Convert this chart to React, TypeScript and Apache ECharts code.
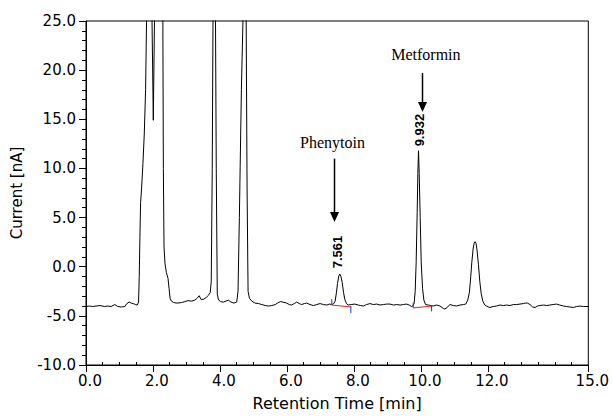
import React, { useEffect, useRef } from "react";
import * as echarts from "echarts";

// Chromatogram trace: retention time (min) and current (nA)
const retentionTime: number[] = [
  0.0, 0.1, 0.2, 0.3, 0.42, 0.55, 0.65, 0.75, 0.86, 0.95, 1.05, 1.16, 1.22, 1.29, 1.35, 1.41, 1.48, 1.53,
  1.57, 1.59, 1.61, 1.63, 1.66, 1.7, 1.74, 1.78, 1.81, 1.85, 1.9, 1.93, 1.96, 2.01, 2.055, 2.09, 2.15, 2.25,
  2.29, 2.31, 2.33, 2.36, 2.4, 2.45, 2.48, 2.51, 2.55, 2.62, 2.72, 2.85, 2.95, 3.05, 3.15, 3.25, 3.32, 3.38,
  3.44, 3.52, 3.6, 3.66, 3.71, 3.74, 3.77, 3.8, 3.83, 3.86, 3.89, 3.92, 3.96, 4.02, 4.1, 4.18, 4.25, 4.33,
  4.42, 4.5, 4.54, 4.58, 4.64, 4.7, 4.74, 4.78, 4.81, 4.84, 4.88, 4.95, 5.05, 5.15, 5.25, 5.35, 5.45, 5.55,
  5.65, 5.72, 5.8, 5.88, 5.99, 6.07, 6.14, 6.22, 6.29, 6.37, 6.44, 6.52, 6.59, 6.69, 6.79, 6.89, 6.99, 7.09,
  7.19, 7.27, 7.34, 7.4, 7.44, 7.48, 7.51, 7.55, 7.58, 7.61, 7.65, 7.69, 7.73, 7.78, 7.83, 7.92, 8.03, 8.13,
  8.2, 8.28, 8.38, 8.48, 8.58, 8.68, 8.78, 8.88, 8.98, 9.08, 9.18, 9.28, 9.38, 9.48, 9.56, 9.62, 9.68, 9.72,
  9.76, 9.8, 9.83, 9.86, 9.89, 9.91, 9.93, 9.95, 9.98, 10.01, 10.05, 10.09, 10.14, 10.22, 10.3, 10.37, 10.47,
  10.57, 10.67, 10.72, 10.78, 10.87, 10.97, 11.07, 11.17, 11.27, 11.34, 11.4, 11.45, 11.49, 11.52, 11.56,
  11.59, 11.62, 11.65, 11.68, 11.72, 11.76, 11.8, 11.85, 11.91, 11.96, 12.06, 12.16, 12.26, 12.36, 12.46,
  12.56, 12.66, 12.76, 12.86, 12.96, 13.06, 13.12, 13.18, 13.26, 13.34, 13.41, 13.48, 13.56, 13.66, 13.76,
  13.85, 13.95, 14.05, 14.15, 14.25, 14.35, 14.45, 14.55, 14.65, 14.75, 14.85, 15.0,
];
const current: number[] = [
  -4.05, -4.0, -4.05, -4.0, -3.95, -4.05, -4.0, -4.05, -3.85, -4.05, -4.1, -4.05, -3.75, -3.6, -3.7, -3.75, -3.85, -3.9,
  -3.6, -1.0, 3.0, 6.5, 8.0, 10.5, 13.5, 18.0, 25.5, 40, 55, 60, 28, 14.9, 28, 60, 70, 60,
  30, 10, 2, 0.3, -0.6, -1.2, -2.2, -3.2, -3.5, -3.65, -3.7, -3.65, -3.55, -3.45, -3.5, -3.4, -3.2, -2.95,
  -3.35, -3.3, -3.1, -2.9, -2.6, -1.5, 10, 30, 70, 30, 10, -2.8, -3.4, -3.55, -3.6, -3.5, -3.4, -3.6,
  -3.7, -3.6, -2.5, 5, 18, 27, 60, 27, 8, -2.5, -3.2, -3.5, -3.7, -3.75, -3.85, -3.95, -4.0, -3.95,
  -3.85, -3.7, -3.55, -3.6, -3.7, -3.85, -3.9, -3.75, -3.6, -3.75, -3.85, -3.75, -3.7, -3.85, -3.95, -3.85, -3.75, -3.85,
  -3.9, -3.8, -3.85, -3.75, -3.5, -2.6, -1.7, -0.95, -0.75, -0.95, -1.6, -2.6, -3.35, -3.75, -3.9, -3.85, -3.8, -3.9,
  -3.95, -4.0, -3.85, -3.75, -3.85, -3.8, -3.9, -3.85, -3.8, -3.8, -3.9, -3.85, -3.9, -3.85, -3.8, -3.85, -3.95, -4.05,
  -4.0, -3.7, -2.5, 0.5, 5.5, 9.5, 11.8, 9.5, 5.0, 0.5, -2.2, -3.4, -3.85, -3.9, -3.95, -4.0, -3.9,
  -4.0, -4.25, -4.3, -4.15, -3.85, -3.95, -4.0, -3.9, -3.85, -3.8, -3.4, -2.6, -1.0, 0.4, 1.8,
  2.4, 2.55, 2.35, 1.6, 0.2, -1.5, -2.7, -3.5, -3.9, -4.0, -4.15, -4.05, -4.0, -3.9, -3.95,
  -3.9, -3.95, -3.85, -3.85, -3.8, -3.75, -3.7, -3.7, -3.85, -4.1, -4.15, -4.0, -3.95, -3.9, -3.95,
  -3.9, -3.85, -3.8, -3.9, -4.0, -4.05, -4.1, -4.15, -4.05, -4.0, -4.05, -4.05,
];

// Integration baselines (red) and their start/end marks (blue)
const phenytoinBaseline: number[][] = [[7.34, -3.9], [7.91, -4.1]];
const metforminBaseline: number[][] = [[9.77, -4.2], [10.32, -4.0]];
const integrationMarks: number[][][] = [
  [[7.34, -3.3], [7.34, -3.9]],
  [[7.91, -4.0], [7.91, -4.7]],
  [[9.77, -3.65], [9.77, -4.2]],
  [[10.32, -4.0], [10.32, -4.55]],
];

// Peak annotations
const peakNames = ["Phenytoin", "Metformin"];
const peakTimes = [7.561, 9.932];

const xLabelValues = [0, 2, 4, 6, 8, 10, 12, 15];
const xMinorTicks: number[] = [];
for (let i = 0; i <= 30; i++) {
  const v = i * 0.5;
  if (!xLabelValues.includes(v)) xMinorTicks.push(v);
}

const AXIS_FONT = "DejaVu Sans";

export default function App() {
  const ref = useRef<HTMLDivElement>(null);
  useEffect(() => {
    if (!ref.current) return;
    const chart = echarts.init(ref.current, null, { renderer: "svg" });
    const trace = retentionTime.map((t, i) => [t, current[i]]);
    const markSeries = integrationMarks.map((seg) => ({
      type: "line",
      data: seg,
      showSymbol: false,
      symbol: "none",
      lineStyle: { color: "#2233ee", width: 1 },
      silent: true,
      z: 3,
    }));
    chart.setOption({
      animation: false,
      grid: {
        left: 86,
        right: 23,
        top: 21,
        bottom: 53,
        show: true,
        borderColor: "#000",
        borderWidth: 1,
        backgroundColor: "transparent",
      },
      xAxis: [
        {
          type: "value",
          min: 0,
          max: 15,
          interval: 0.5,
          position: "bottom",
          name: "Retention Time [min]",
          nameLocation: "middle",
          nameGap: 30,
          nameTextStyle: { fontFamily: AXIS_FONT, fontSize: 16, color: "#000" },
          axisLine: { show: true, onZero: false, lineStyle: { color: "#000", width: 1 } },
          axisTick: { show: true, inside: false, length: 7, customValues: xLabelValues, lineStyle: { color: "#000" } },
          axisLabel: {
            show: true,
            customValues: xLabelValues,
            formatter: (v: number) => v.toFixed(1),
            fontFamily: AXIS_FONT,
            fontSize: 15,
            color: "#000",
            margin: 8,
            padding: [0, 0, 0, 8],
          },
          splitLine: { show: false },
        },
        {
          type: "value",
          min: 0,
          max: 15,
          interval: 0.5,
          position: "bottom",
          axisLine: { show: false, onZero: false },
          axisTick: { show: true, inside: true, length: 3, customValues: xMinorTicks, lineStyle: { color: "#000" } },
          axisLabel: { show: false },
          splitLine: { show: false },
        },
      ],
      yAxis: {
        type: "value",
        min: -10,
        max: 25,
        interval: 5,
        name: "Current [nA]",
        nameLocation: "middle",
        nameGap: 62,
        nameRotate: 90,
        nameTextStyle: { fontFamily: AXIS_FONT, fontSize: 15, color: "#000" },
        axisLine: { show: true, onZero: false, lineStyle: { color: "#000", width: 1 } },
        axisTick: { show: true, inside: false, length: 7, lineStyle: { color: "#000" } },
        minorTick: { show: true, splitNumber: 5, length: 4, lineStyle: { color: "#000" } },
        axisLabel: {
          formatter: (v: number) => v.toFixed(1),
          fontFamily: AXIS_FONT,
          fontSize: 15,
          color: "#000",
          margin: 10,
        },
        splitLine: { show: false },
      },
      series: [
        {
          type: "line",
          data: trace,
          showSymbol: false,
          symbol: "none",
          clip: true,
          lineStyle: { color: "#000", width: 1 },
          silent: true,
          z: 2,
        },
        {
          type: "line",
          data: phenytoinBaseline,
          showSymbol: false,
          symbol: "none",
          lineStyle: { color: "#e8202a", width: 1 },
          silent: true,
          z: 3,
        },
        {
          type: "line",
          data: metforminBaseline,
          showSymbol: false,
          symbol: "none",
          lineStyle: { color: "#e8202a", width: 1 },
          silent: true,
          z: 3,
        },
        ...markSeries,
      ],
    });

    const px = (t: number, v: number) =>
      chart.convertToPixel({ xAxisIndex: 0, yAxisIndex: 0 }, [t, v]) as number[];

    const arrow = (t: number, vTop: number, vTip: number) => {
      const a = px(t, vTop);
      const b = px(t, vTip);
      const x = Math.round(a[0]) + 0.5;
      const head = 10;
      return [
        {
          type: "line",
          shape: { x1: x, y1: a[1], x2: x, y2: b[1] - head + 1 },
          style: { stroke: "#000", lineWidth: 1.5 },
          z: 10,
        },
        {
          type: "polygon",
          shape: { points: [[x - 4.5, b[1] - head], [x + 4.5, b[1] - head], [x, b[1]]] },
          style: { fill: "#000" },
          z: 10,
        },
      ];
    };

    const text = (
      label: string,
      p: number[],
      font: string,
      rotation = 0
    ) => ({
      type: "text",
      x: p[0],
      y: p[1],
      rotation,
      z: 10,
      style: {
        text: label,
        font,
        fill: "#000",
        align: "center",
        verticalAlign: "middle",
        textAlign: "center",
        textVerticalAlign: "middle",
      },
    });

    const pPhenText = px(7.36, 12.6);
    const pMetText = px(10.15, 21.6);
    const pLbl1 = px(peakTimes[0] - 0.05, 1.5);
    const pLbl2 = px(peakTimes[1] + 0.03, 13.9);

    chart.setOption({
      graphic: [
        text(peakNames[0], pPhenText, "16px 'Liberation Serif'"),
        text(peakNames[1], pMetText, "16px 'Liberation Serif'"),
        ...arrow(7.4, 11.0, 4.55),
        ...arrow(10.02, 19.7, 15.74),
        text(peakTimes[0].toFixed(3), pLbl1, "bold 13px 'Liberation Sans'", Math.PI / 2),
        text(peakTimes[1].toFixed(3), pLbl2, "bold 13px 'Liberation Sans'", Math.PI / 2),
      ],
    });

    return () => chart.dispose();
  }, []);
  return (
    <div
      ref={ref}
      style={{ position: "fixed", left: 0, top: 0, width: 612, height: 418, background: "#fff" }}
    />
  );
}
